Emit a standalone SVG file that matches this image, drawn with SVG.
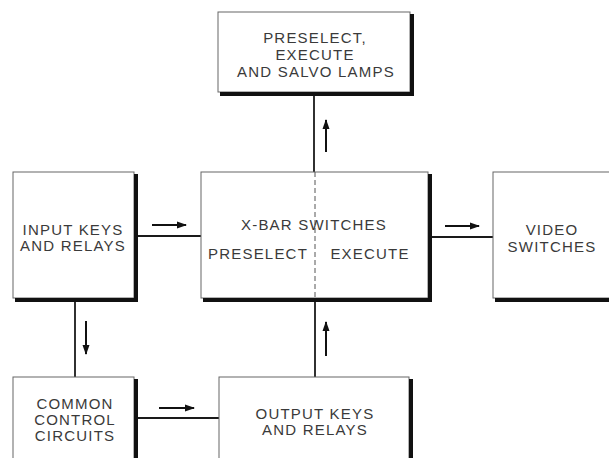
<svg xmlns="http://www.w3.org/2000/svg" width="609" height="458" viewBox="0 0 609 458">
<style>
.box{fill:#fff;stroke:#666;stroke-width:1}
.shadow{fill:none;stroke:#111;stroke-width:4}
.conn{fill:none;stroke:#1a1a1a;stroke-width:1.8}
.arr{fill:none;stroke:#111;stroke-width:2}
text{font-family:"Liberation Sans",Arial,sans-serif;font-size:15px;fill:#3a3a3a;letter-spacing:1.2px;text-anchor:middle}
</style>
<defs>
<marker id="ah" markerWidth="10" markerHeight="8" refX="9" refY="4" orient="auto" markerUnits="userSpaceOnUse">
<path d="M0,0.5 L10,4 L0,7.5 Z" fill="#111"/>
</marker>
</defs>
<rect width="609" height="458" fill="#fff"/>
<g id="connectors">
<line class="conn" x1="314" y1="96" x2="314" y2="172"/>
<line class="conn" x1="315" y1="302" x2="315" y2="377"/>
<line class="conn" x1="138" y1="236" x2="201" y2="236"/>
<line class="conn" x1="432" y1="237" x2="493" y2="237"/>
<line class="conn" x1="75" y1="302" x2="75" y2="377"/>
<line class="conn" x1="138" y1="418" x2="219" y2="418"/>
<line class="arr" x1="326" y1="152" x2="326" y2="120" marker-end="url(#ah)"/>
<line class="arr" x1="152" y1="225" x2="186" y2="225" marker-end="url(#ah)"/>
<line class="arr" x1="445" y1="226" x2="479" y2="226" marker-end="url(#ah)"/>
<line class="arr" x1="86" y1="321" x2="86" y2="354" marker-end="url(#ah)"/>
<line class="arr" x1="159" y1="408" x2="194" y2="408" marker-end="url(#ah)"/>
<line class="arr" x1="326" y1="356" x2="326" y2="322" marker-end="url(#ah)"/>
</g>
<g id="lamps">
<rect class="box" x="218" y="12" width="192" height="80"/>
<path class="shadow" d="M412,14 V94 H220"/>
<text x="315" y="43">PRESELECT,</text>
<text x="315" y="60">EXECUTE</text>
<text x="316" y="77">AND SALVO LAMPS</text>
</g>
<g id="input">
<rect class="box" x="13" y="172" width="121" height="126"/>
<path class="shadow" d="M136,174 V300 H15"/>
<text x="73" y="235">INPUT KEYS</text>
<text x="73" y="251">AND RELAYS</text>
</g>
<g id="xbar">
<rect class="box" x="201" y="172" width="227" height="126"/>
<path class="shadow" d="M430,174 V300 H203"/>
<line x1="315" y1="172" x2="315" y2="298" stroke="#555" stroke-width="1" stroke-dasharray="5,3"/>
<text x="314" y="230">X-BAR SWITCHES</text>
<text x="258" y="259">PRESELECT</text>
<text x="370" y="259">EXECUTE</text>
</g>
<g id="video">
<rect class="box" x="493" y="172" width="120" height="126"/>
<path class="shadow" d="M495,300 H612"/>
<text x="552" y="235">VIDEO</text>
<text x="552" y="252">SWITCHES</text>
</g>
<g id="common">
<rect class="box" x="13" y="377" width="121" height="90"/>
<path class="shadow" d="M136,379 V460"/>
<text x="75" y="409">COMMON</text>
<text x="75" y="425">CONTROL</text>
<text x="75" y="441">CIRCUITS</text>
</g>
<g id="output">
<rect class="box" x="219" y="377" width="190" height="90"/>
<path class="shadow" d="M411,379 V460" stroke="#0d2a12"/>
<text x="315" y="419">OUTPUT KEYS</text>
<text x="315" y="435">AND RELAYS</text>
</g>
</svg>
